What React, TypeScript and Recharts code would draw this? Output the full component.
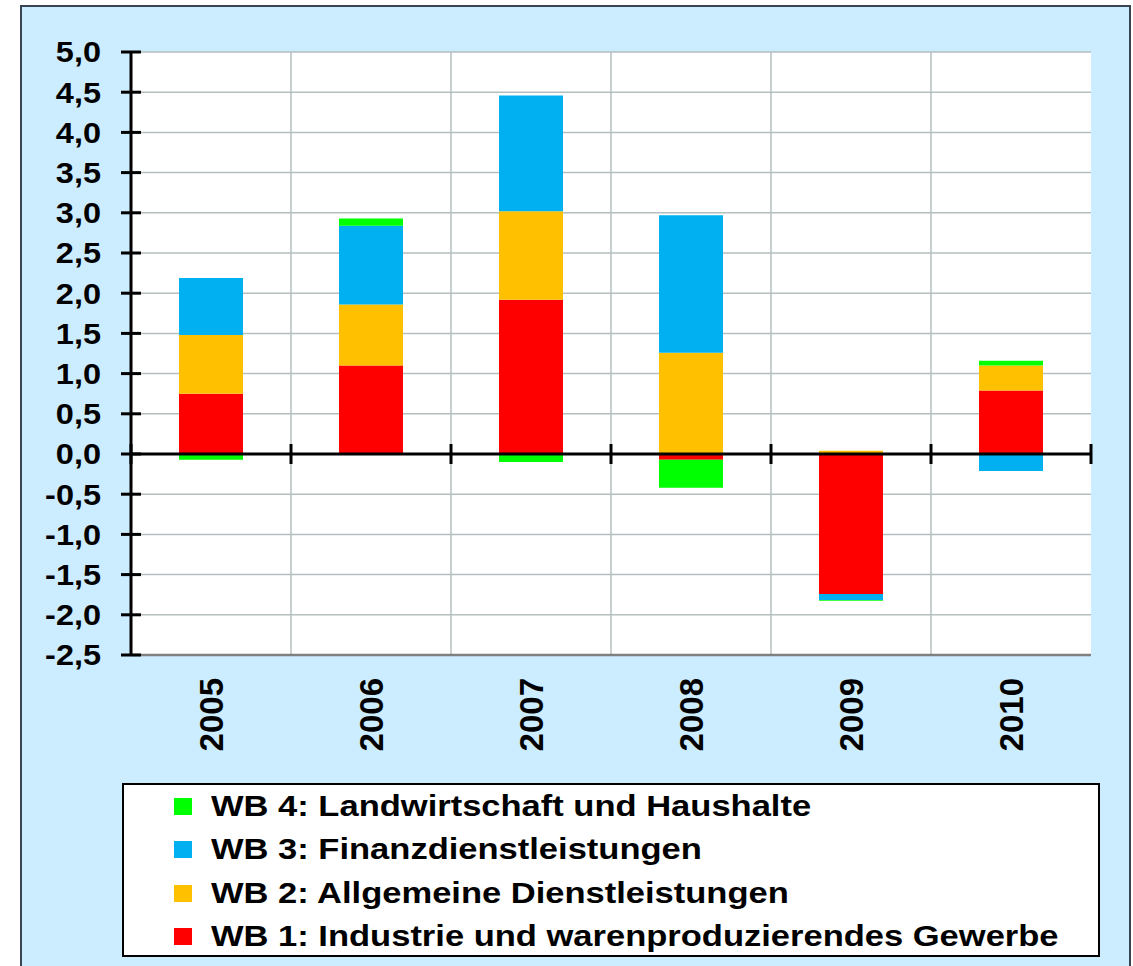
import React from 'react';
import { BarChart, Bar, XAxis, YAxis, CartesianGrid, ReferenceLine } from 'recharts';

const years = ['2005', '2006', '2007', '2008', '2009', '2010'];
const wb1 = [0.75, 1.10, 1.92, -0.07, -1.74, 0.79];
const wb2 = [0.73, 0.76, 1.10, 1.26, 0.04, 0.31];
const wb3 = [0.71, 0.98, 1.44, 1.71, -0.075, -0.21];
const wb4 = [-0.07, 0.09, -0.10, -0.35, -0.01, 0.06];
const yTicks = [-2.5, -2, -1.5, -1, -0.5, 0, 0.5, 1, 1.5, 2, 2.5, 3, 3.5, 4, 4.5, 5];

const seriesNames = [
  'WB 1: Industrie und warenproduzierendes Gewerbe',
  'WB 2: Allgemeine Dienstleistungen',
  'WB 3: Finanzdienstleistungen',
  'WB 4: Landwirtschaft und Haushalte',
];
const seriesKeys = ['wb1', 'wb2', 'wb3', 'wb4'];
const seriesColors = ['#FF0000', '#FFC000', '#00B0F0', '#00FF00'];

const data = years.map((y, i) => ({ year: y, wb1: wb1[i], wb2: wb2[i], wb3: wb3[i], wb4: wb4[i] }));

const FONT = '"Liberation Sans", Arial, sans-serif';
const W = 1133;
const H = 966;
const TICK_MARGIN = 30;

const fmt = (v: number) => v.toFixed(1).replace('.', ',');

const YTick = (props: any) => {
  const { x, y, payload } = props;
  const axisX = x + TICK_MARGIN;
  return (
    <g>
      <line x1={axisX - 10} x2={axisX + 10} y1={y} y2={y} stroke="#000" strokeWidth={3} />
      <text
        transform={`translate(${x}, ${y}) scale(1.12, 1)`}
        x={0}
        y={0}
        dy="0.36em"
        textAnchor="end"
        fontFamily={FONT}
        fontWeight="bold"
        fontSize={29}
        fill="#000"
      >
        {fmt(payload.value)}
      </text>
    </g>
  );
};

const XTick = (props: any) => {
  const { x, y, payload } = props;
  return (
    <text
      x={x}
      y={y}
      transform={`rotate(-90 ${x} ${y})`}
      dy="0.35em"
      textAnchor="end"
      fontFamily={FONT}
      fontWeight="bold"
      fontSize={33}
      fill="#000"
    >
      {payload.value}
    </text>
  );
};

const ZeroLine = (props: any) => {
  const { x1, y1, x2 } = props;
  const n = years.length;
  const ticks = [];
  for (let i = 0; i <= n; i++) {
    const tx = x1 + ((x2 - x1) * i) / n;
    ticks.push(<line key={i} x1={tx} x2={tx} y1={y1 - 10} y2={y1 + 10} stroke="#000" strokeWidth={3} />);
  }
  return (
    <g>
      <line x1={x1} x2={x2} y1={y1} y2={y1} stroke="#000" strokeWidth={3} />
      {ticks}
    </g>
  );
};

const Legend = () => {
  const order = [3, 2, 1, 0];
  return (
    <div
      style={{
        position: 'absolute',
        left: 122,
        top: 783,
        width: 978,
        height: 174,
        boxSizing: 'border-box',
        border: '2.5px solid #000',
        background: '#fff',
      }}
    >
      {order.map((idx, row) => (
        <div
          key={idx}
          style={{
            position: 'absolute',
            left: 0,
            top: 23.5 - 2.5 + row * 43.5 - 21.75,
            height: 43.5,
            display: 'flex',
            alignItems: 'center',
            whiteSpace: 'nowrap',
          }}
        >
          <div style={{ marginLeft: 49.5, width: 18, height: 17, background: seriesColors[idx] }} />
          <div
            style={{
              marginLeft: 19,
              fontFamily: FONT,
              fontWeight: 'bold',
              fontSize: 29,
              color: '#000',
              transform: 'scaleX(1.19)',
              transformOrigin: 'left center',
            }}
          >
            {seriesNames[idx]}
          </div>
        </div>
      ))}
    </div>
  );
};

export default function App() {
  return (
    <div style={{ position: 'absolute', left: 0, top: 0, width: W, height: H, overflow: 'hidden', background: '#fff' }}>
      <div
        style={{
          position: 'absolute',
          left: 20,
          top: 5,
          width: 1111,
          height: 1000,
          boxSizing: 'border-box',
          border: '2px solid #3a4450',
          background: '#CCECFF',
        }}
      />
      <div style={{ position: 'absolute', left: 0, top: 0 }}>
        <BarChart
          width={W}
          height={H}
          data={data}
          stackOffset="sign"
          barSize={64}
          margin={{ top: 52, right: 42, bottom: 191, left: 0 }}
        >
          <CartesianGrid
            fill="#FFFFFF"
            stroke="#B4BEBE"
            strokeWidth={1.5}
            verticalCoordinatesGenerator={({ offset }: any) =>
              years.slice(1).map((_, i) => offset.left + (offset.width * (i + 1)) / years.length)
            }
          />
          <XAxis
            dataKey="year"
            height={120}
            axisLine={{ stroke: '#808080', strokeWidth: 2.5 }}
            tickLine={false}
            tickSize={0}
            tickMargin={23}
            tick={<XTick />}
            interval={0}
          />
          <XAxis
            xAxisId="top"
            dataKey="year"
            orientation="top"
            height={0}
            axisLine={{ stroke: '#808080', strokeWidth: 2.5 }}
            tick={false}
            tickLine={false}
          />
          <YAxis
            domain={[-2.5, 5]}
            ticks={yTicks}
            width={131}
            interval={0}
            axisLine={{ stroke: '#000', strokeWidth: 3 }}
            tickLine={false}
            tickSize={0}
            tickMargin={TICK_MARGIN}
            tick={<YTick />}
            allowDataOverflow
          />
          <YAxis
            yAxisId="right"
            orientation="right"
            domain={[-2.5, 5]}
            width={0}
            axisLine={{ stroke: '#808080', strokeWidth: 2.5 }}
            tick={false}
            tickLine={false}
          />
          {seriesKeys.map((k, i) => (
            <Bar key={k} dataKey={k} name={seriesNames[i]} stackId="s" fill={seriesColors[i]} isAnimationActive={false} />
          ))}
          <ReferenceLine y={0} shape={<ZeroLine />} />
        </BarChart>
      </div>
      <Legend />
    </div>
  );
}
